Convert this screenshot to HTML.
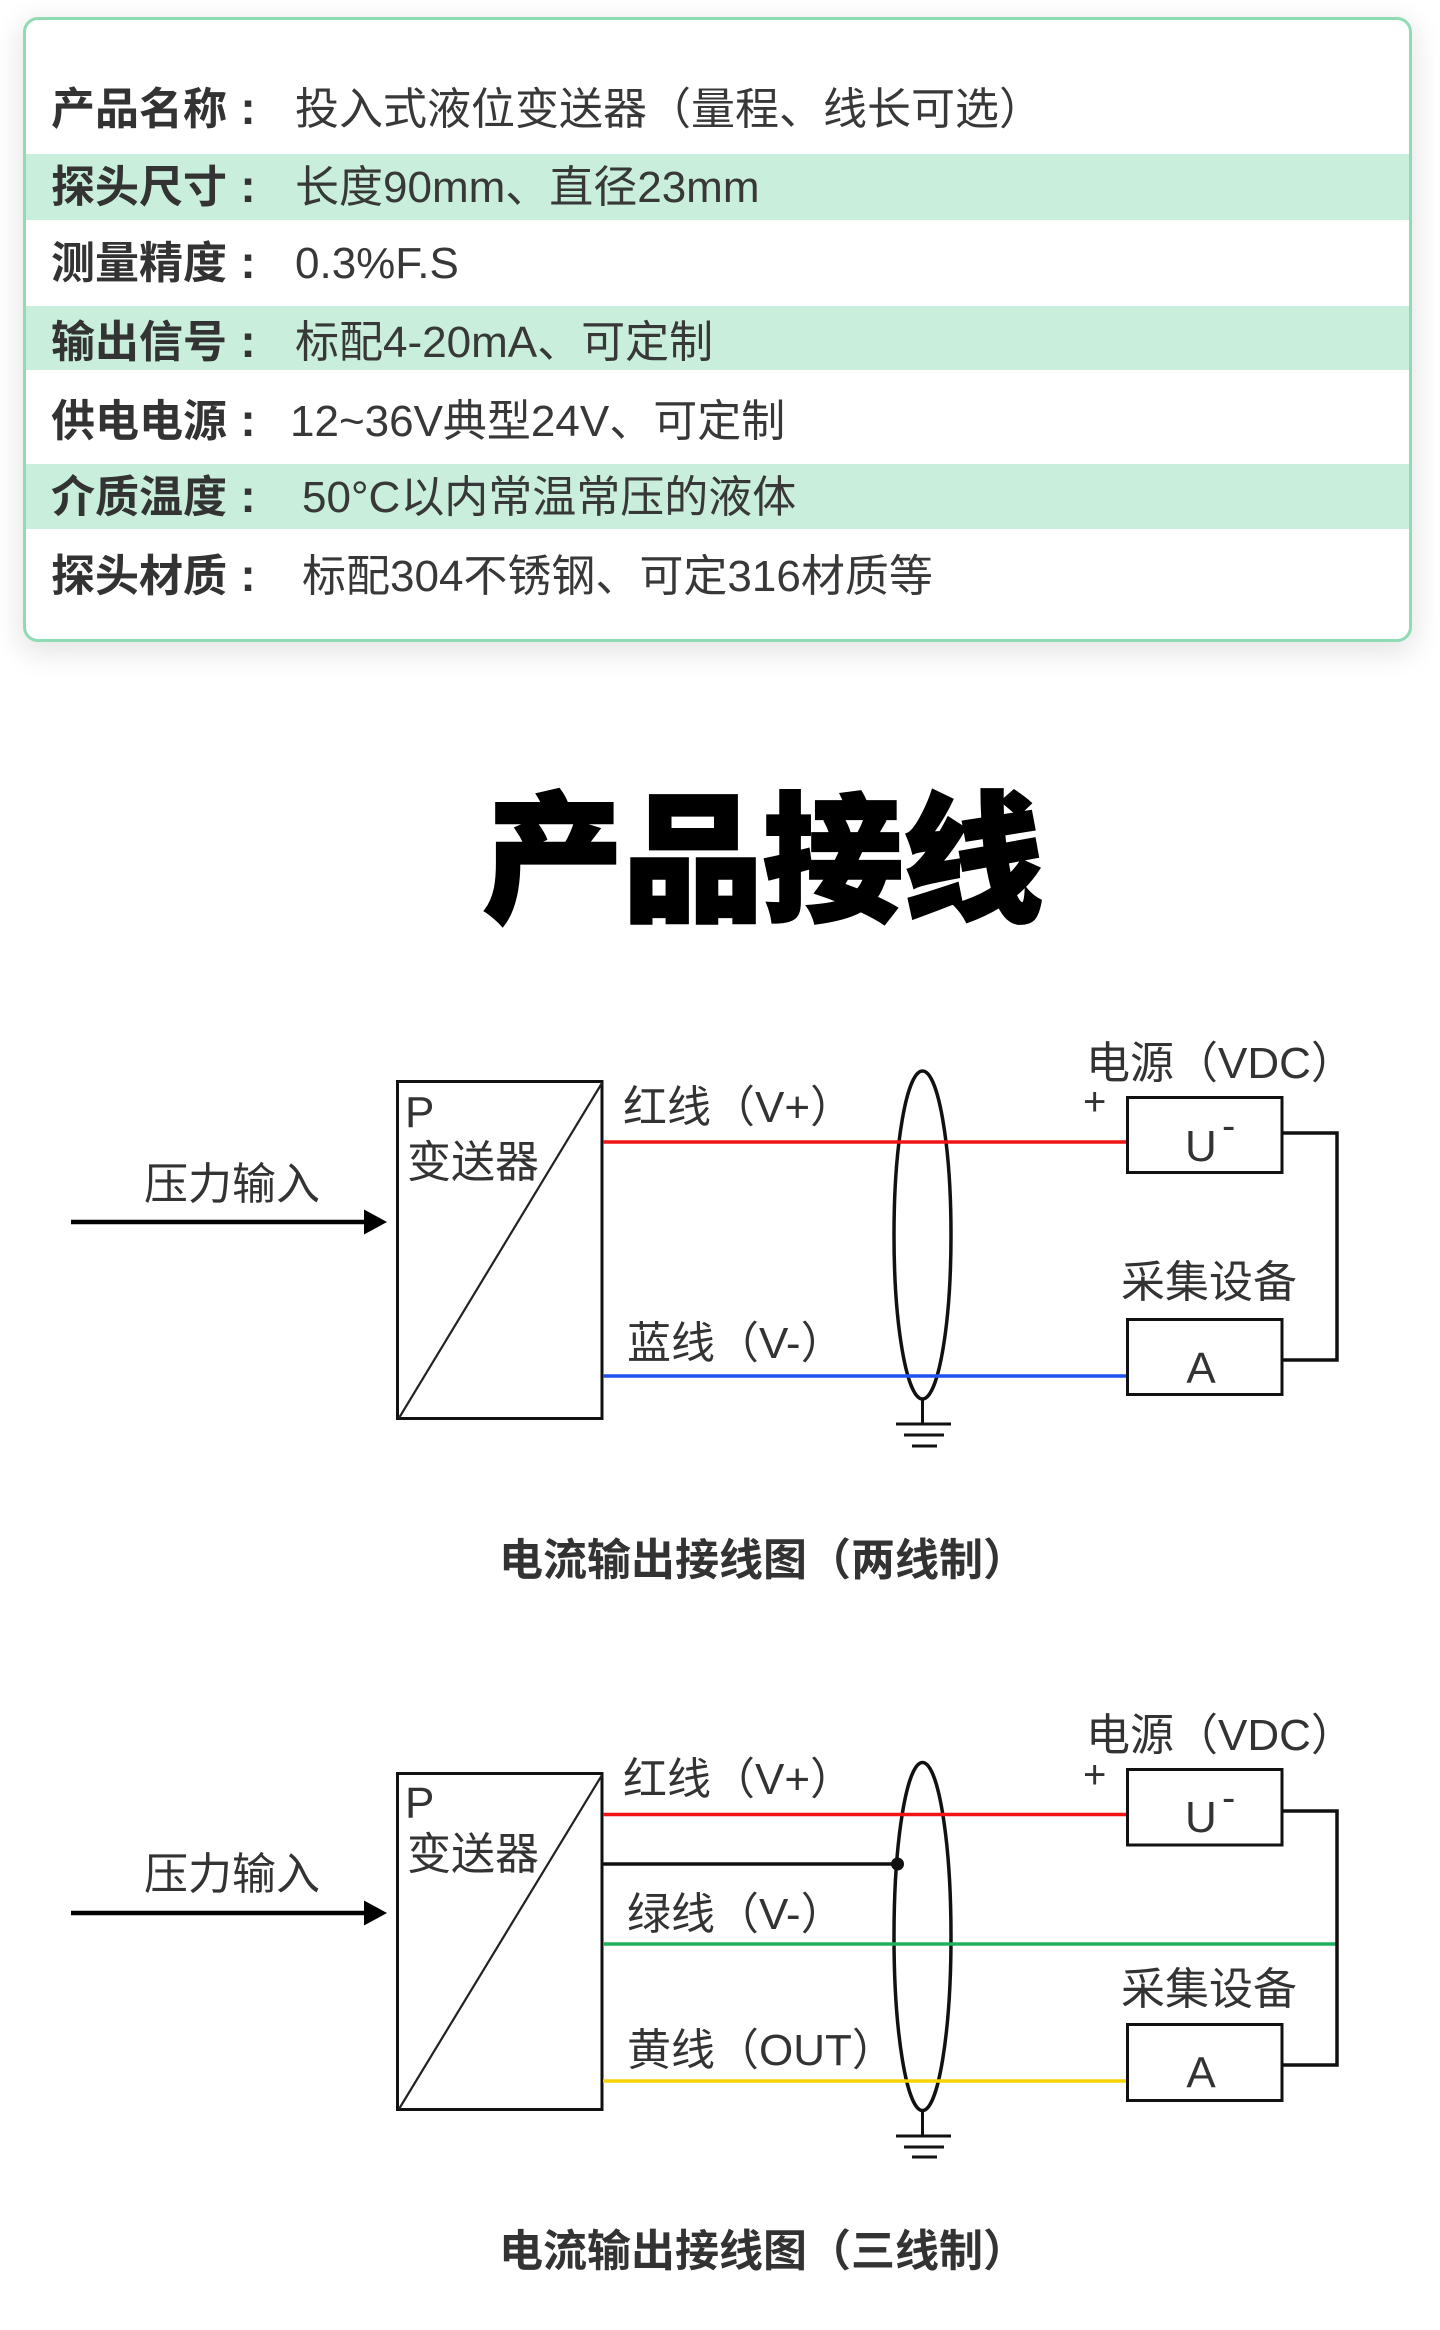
<!DOCTYPE html>
<html>
<head>
<meta charset="utf-8">
<style>
  html,body{margin:0;padding:0;background:#fff;}
  body{width:1440px;height:2330px;position:relative;overflow:hidden;}
  .card{position:absolute;left:23px;top:17px;width:1389px;height:625px;box-sizing:border-box;border:3px solid #8fdcb4;border-radius:15px;background:#fff;box-shadow:0 8px 28px 4px rgba(0,0,0,0.10);}
  .band{position:absolute;left:26px;width:1383px;background:#c9eedb;}
  svg{position:absolute;left:0;top:0;}
  text{font-family:"Liberation Sans","Noto Sans CJK SC",sans-serif;}
  .lb{font-size:44px;font-weight:700;fill:#333;}
  .cl{font-size:46px;font-weight:700;fill:#333;}
  .vl{font-size:44px;font-weight:400;fill:#383838;}
  .dt{font-size:44px;font-weight:400;fill:#333;}
  .cap{font-size:44px;font-weight:700;fill:#333;}
</style>
</head>
<body>
<div class="card"></div>
<div class="band" style="top:154px;height:66px;"></div>
<div class="band" style="top:306px;height:64px;"></div>
<div class="band" style="top:464px;height:65px;"></div>

<svg width="1440" height="2330" viewBox="0 0 1440 2330" xmlns="http://www.w3.org/2000/svg">
  <!-- Table text -->
  <text class="lb" x="51" y="124">产品名称</text>
  <text class="cl" x="248" y="124" text-anchor="middle">:</text>
  <text class="vl" x="295" y="124">投入式液位变送器（量程、线长可选）</text>
  <text class="lb" x="51" y="202">探头尺寸</text>
  <text class="cl" x="248" y="202" text-anchor="middle">:</text>
  <text class="vl" x="295" y="202">长度90mm、直径23mm</text>
  <text class="lb" x="51" y="278">测量精度</text>
  <text class="cl" x="248" y="278" text-anchor="middle">:</text>
  <text class="vl" x="295" y="278">0.3%F.S</text>
  <text class="lb" x="51" y="357">输出信号</text>
  <text class="cl" x="248" y="357" text-anchor="middle">:</text>
  <text class="vl" x="295" y="357">标配4-20mA、可定制</text>
  <text class="lb" x="51" y="436">供电电源</text>
  <text class="cl" x="248" y="436" text-anchor="middle">:</text>
  <text class="vl" x="290" y="436">12~36V典型24V、可定制</text>
  <text class="lb" x="51" y="512">介质温度</text>
  <text class="cl" x="248" y="512" text-anchor="middle">:</text>
  <text class="vl" x="302" y="512">50°C以内常温常压的液体</text>
  <text class="lb" x="51" y="591">探头材质</text>
  <text class="cl" x="248" y="591" text-anchor="middle">:</text>
  <text class="vl" x="302" y="591">标配304不锈钢、可定316材质等</text>

  <!-- Title -->
  <text x="763" y="910" text-anchor="middle" style="font-size:140px;font-weight:900;fill:#000;stroke:#000;stroke-width:3;">产品接线</text>

  <!-- ============ Diagram 1 ============ -->
  <text class="dt" x="144" y="1199">压力输入</text>
  <line x1="71" y1="1222" x2="366" y2="1222" stroke="#000" stroke-width="4.5"/>
  <polygon points="364,1209.5 387,1222 364,1234.5" fill="#000"/>

  <rect x="397.5" y="1081.5" width="204.5" height="337" fill="none" stroke="#111" stroke-width="3"/>
  <line x1="399" y1="1418" x2="602" y2="1083" stroke="#222" stroke-width="2.2"/>
  <text class="dt" x="405" y="1127">P</text>
  <text class="dt" x="407" y="1177">变送器</text>

  <text class="dt" x="623" y="1122">红线（V+）</text>
  <text class="dt" x="627" y="1358">蓝线（V-）</text>

  <ellipse cx="922.5" cy="1235" rx="28.5" ry="164" fill="none" stroke="#111" stroke-width="3.5"/>
  <line x1="922.5" y1="1399" x2="922.5" y2="1424" stroke="#111" stroke-width="3"/>
  <line x1="896" y1="1424" x2="951" y2="1424" stroke="#111" stroke-width="3"/>
  <line x1="904" y1="1435" x2="944" y2="1435" stroke="#111" stroke-width="3"/>
  <line x1="912" y1="1446" x2="937" y2="1446" stroke="#111" stroke-width="3"/>

  <line x1="603" y1="1142" x2="1126" y2="1142" stroke="#f01414" stroke-width="3.5"/>
  <line x1="603" y1="1376" x2="1126" y2="1376" stroke="#1f50f0" stroke-width="3.5"/>

  <text class="dt" x="1086" y="1078">电源（VDC）</text>
  <text class="dt" x="1083" y="1115" style="font-size:40px;">+</text>
  <rect x="1127.5" y="1097.5" width="154.5" height="75" fill="none" stroke="#111" stroke-width="3"/>
  <text class="dt" x="1185" y="1161">U</text>
  <text class="dt" x="1222" y="1139" style="font-size:40px;">-</text>

  <polyline points="1283.5,1133 1337,1133 1337,1360 1283.5,1360" fill="none" stroke="#111" stroke-width="3.5"/>

  <text class="dt" x="1121" y="1297">采集设备</text>
  <rect x="1127.5" y="1319.5" width="154.5" height="75" fill="none" stroke="#111" stroke-width="3"/>
  <text class="dt" x="1201" y="1383" text-anchor="middle">A</text>

  <text class="cap" x="499" y="1575">电流输出接线图（两线制）</text>

  <!-- ============ Diagram 2 ============ -->
  <text class="dt" x="144" y="1889">压力输入</text>
  <line x1="71" y1="1913" x2="366" y2="1913" stroke="#000" stroke-width="4.5"/>
  <polygon points="364,1900.5 387,1913 364,1925.5" fill="#000"/>

  <rect x="397.5" y="1773.5" width="204.5" height="336" fill="none" stroke="#111" stroke-width="3"/>
  <line x1="399" y1="2109" x2="602" y2="1775" stroke="#222" stroke-width="2.2"/>
  <text class="dt" x="405" y="1817.5">P</text>
  <text class="dt" x="407" y="1869">变送器</text>

  <text class="dt" x="623" y="1794">红线（V+）</text>
  <text class="dt" x="627" y="1929">绿线（V-）</text>
  <text class="dt" x="627" y="2065">黄线（OUT）</text>

  <ellipse cx="922.5" cy="1936.5" rx="28.5" ry="174" fill="none" stroke="#111" stroke-width="3.5"/>
  <line x1="922.5" y1="2110" x2="922.5" y2="2136" stroke="#111" stroke-width="3"/>
  <line x1="896" y1="2136" x2="951" y2="2136" stroke="#111" stroke-width="3"/>
  <line x1="904" y1="2147" x2="944" y2="2147" stroke="#111" stroke-width="3"/>
  <line x1="912" y1="2157" x2="937" y2="2157" stroke="#111" stroke-width="3"/>

  <line x1="603" y1="1814.5" x2="1126" y2="1814.5" stroke="#f01414" stroke-width="3.5"/>
  <line x1="603" y1="1864" x2="898" y2="1864" stroke="#111" stroke-width="3.5"/>
  <circle cx="897.5" cy="1864" r="6.5" fill="#111"/>
  <line x1="603" y1="1944" x2="1337" y2="1944" stroke="#22b060" stroke-width="3.5"/>
  <line x1="603" y1="2081" x2="1126" y2="2081" stroke="#f5d400" stroke-width="3.5"/>

  <text class="dt" x="1086" y="1750">电源（VDC）</text>
  <text class="dt" x="1083" y="1788" style="font-size:40px;">+</text>
  <rect x="1127.5" y="1769.5" width="154.5" height="75.5" fill="none" stroke="#111" stroke-width="3"/>
  <text class="dt" x="1185" y="1832">U</text>
  <text class="dt" x="1222" y="1811" style="font-size:40px;">-</text>

  <polyline points="1283.5,1811 1337,1811 1337,2065 1283.5,2065" fill="none" stroke="#111" stroke-width="3.5"/>

  <text class="dt" x="1121" y="2004">采集设备</text>
  <rect x="1127.5" y="2024.5" width="154.5" height="76" fill="none" stroke="#111" stroke-width="3"/>
  <text class="dt" x="1201" y="2087.5" text-anchor="middle">A</text>

  <text class="cap" x="499" y="2266">电流输出接线图（三线制）</text>
</svg>
</body>
</html>
